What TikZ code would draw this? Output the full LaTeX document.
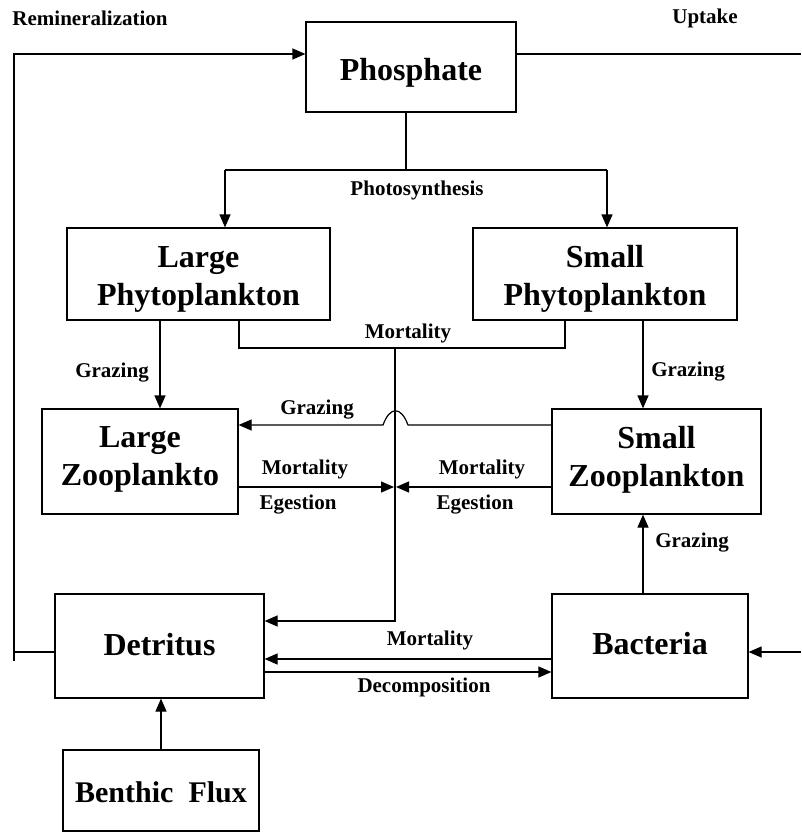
\documentclass[tikz,border=0pt]{standalone}
\usepackage{fontspec}
\setmainfont{Liberation Serif}
\usetikzlibrary{arrows.meta}
\begin{document}
\begin{tikzpicture}[x=1pt,y=-1pt, line width=1.2pt,
  box/.style={draw, rectangle, inner sep=0pt},
  boxtext/.style={inner sep=0pt, align=center, font=\fontsize{32}{38}\selectfont\bfseries},
  lbl/.style={inner sep=0pt, font=\fontsize{21}{24}\selectfont\bfseries},
  arr/.style={-{Triangle[length=13pt,width=11pt]}}]
\useasboundingbox (0,0) rectangle (801,832);

% boxes
\node[box, minimum width=210pt, minimum height=90pt,
  label={[boxtext, yshift=-6pt]center:Phosphate}] (phos) at (411,67) {};
\node[box, minimum width=263pt, minimum height=92pt,
  label={[boxtext, yshift=-5pt]center:Large\\Phytoplankton}] (lphy) at (198.5,274) {};
\node[box, minimum width=264pt, minimum height=92pt,
  label={[boxtext, yshift=-5pt]center:Small\\Phytoplankton}] (sphy) at (605,274) {};
\node[box, minimum width=196pt, minimum height=105pt,
  label={[boxtext, yshift=2pt]center:Large\\Zooplankto}] (lzoo) at (140,461.5) {};
\node[box, minimum width=209pt, minimum height=105pt,
  label={[boxtext, yshift=2pt]center:Small\\Zooplankton}] (szoo) at (656.5,461.5) {};
\node[box, minimum width=209pt, minimum height=104pt,
  label={[boxtext, yshift=1pt]center:Detritus}] (det) at (159.5,646) {};
\node[box, minimum width=196pt, minimum height=104pt,
  label={[boxtext, yshift=2pt]center:Bacteria}] (bact) at (650,646) {};
\node[box, minimum width=196pt, minimum height=81pt,
  label={[boxtext, font=\fontsize{30}{36}\selectfont\bfseries, yshift=-2pt]center:Benthic\ \ Flux}] (benth) at (161,790.5) {};

% top labels
\node[lbl] (rem) at (90,18) {Remineralization};
\node[lbl] (upt) at (705,18) {Uptake};

% remineralization loop
\coordinate (lb) at (14,661);
\coordinate (lt) at (14,54);
\coordinate (lh) at (14,652);
\draw[arr] (lb) -- (lt) -- (phos.west |- lt);
\draw (det.west |- lh) -- (lh);
% uptake
\coordinate (ru) at (801,54);
\draw (phos.east |- ru) -- (ru);

% photosynthesis
\coordinate (pj) at (406,170);
\coordinate (pl) at (225,170);
\coordinate (pr) at (607,170);
\draw (phos.south -| pj) -- (pj);
\draw (pl) -- (pr);
\draw[arr] (pl) -- (lphy.north -| pl);
\draw[arr] (pr) -- (sphy.north -| pr);
\node[lbl] (photo) at (417,190) {Photosynthesis};

% phytoplankton mortality
\coordinate (ml) at (239,348);
\coordinate (mr) at (565,348);
\coordinate (mc) at (395,348);
\coordinate (md) at (395,621);
\draw (lphy.south -| ml) -- (ml) -- (mr) -- (sphy.south -| mr);
\draw[arr] (mc) -- (md) -- (det.east |- md);
\node[lbl] (mort1) at (408,333) {Mortality};

% grazing on phytoplankton
\coordinate (gl) at (160,0);
\coordinate (gr) at (643,0);
\draw[arr] (lphy.south -| gl) -- (lzoo.north -| gl);
\draw[arr] (sphy.south -| gr) -- (szoo.north -| gr);
\node[lbl] (gz1) at (112,373) {Grazing};
\node[lbl] (gz2) at (688,372) {Grazing};

% grazing small zoo -> large zoo (with hop)
\coordinate (gz) at (0,425);
\coordinate (h1) at (408,425);
\coordinate (h2) at (383,425);
\draw[arr] (szoo.west |- gz) -- (h1) .. controls (401,406) and (390,406) .. (h2) -- (lzoo.east |- gz);
\node[lbl] (gz3) at (317,410) {Grazing};

% mortality / egestion
\coordinate (me) at (0,487);
\coordinate (mel) at (394,487);
\coordinate (mer) at (396,487);
\draw[arr] (lzoo.east |- me) -- (mel);
\draw[arr] (szoo.west |- me) -- (mer);
\node[lbl] (m2) at (305,469) {Mortality};
\node[lbl] (e2) at (298,505) {Egestion};
\node[lbl] (m3) at (482,469) {Mortality};
\node[lbl] (e3) at (475,505) {Egestion};

% bacteria grazing
\draw[arr] (bact.north -| gr) -- (szoo.south -| gr);
\node[lbl] (gz4) at (692,543) {Grazing};

% detritus <-> bacteria
\coordinate (bm) at (0,659);
\coordinate (bd) at (0,672);
\draw[arr] (bact.west |- bm) -- (det.east |- bm);
\draw[arr] (det.east |- bd) -- (bact.west |- bd);
\node[lbl] (m4) at (430,640) {Mortality};
\node[lbl] (dc) at (424,687) {Decomposition};

% right input to bacteria
\coordinate (rin) at (801,652);
\draw[arr] (rin) -- (bact.east |- rin);

% benthic flux
\draw[arr] (benth.north) -- (det.south -| benth.north);
\end{tikzpicture}
\end{document}
